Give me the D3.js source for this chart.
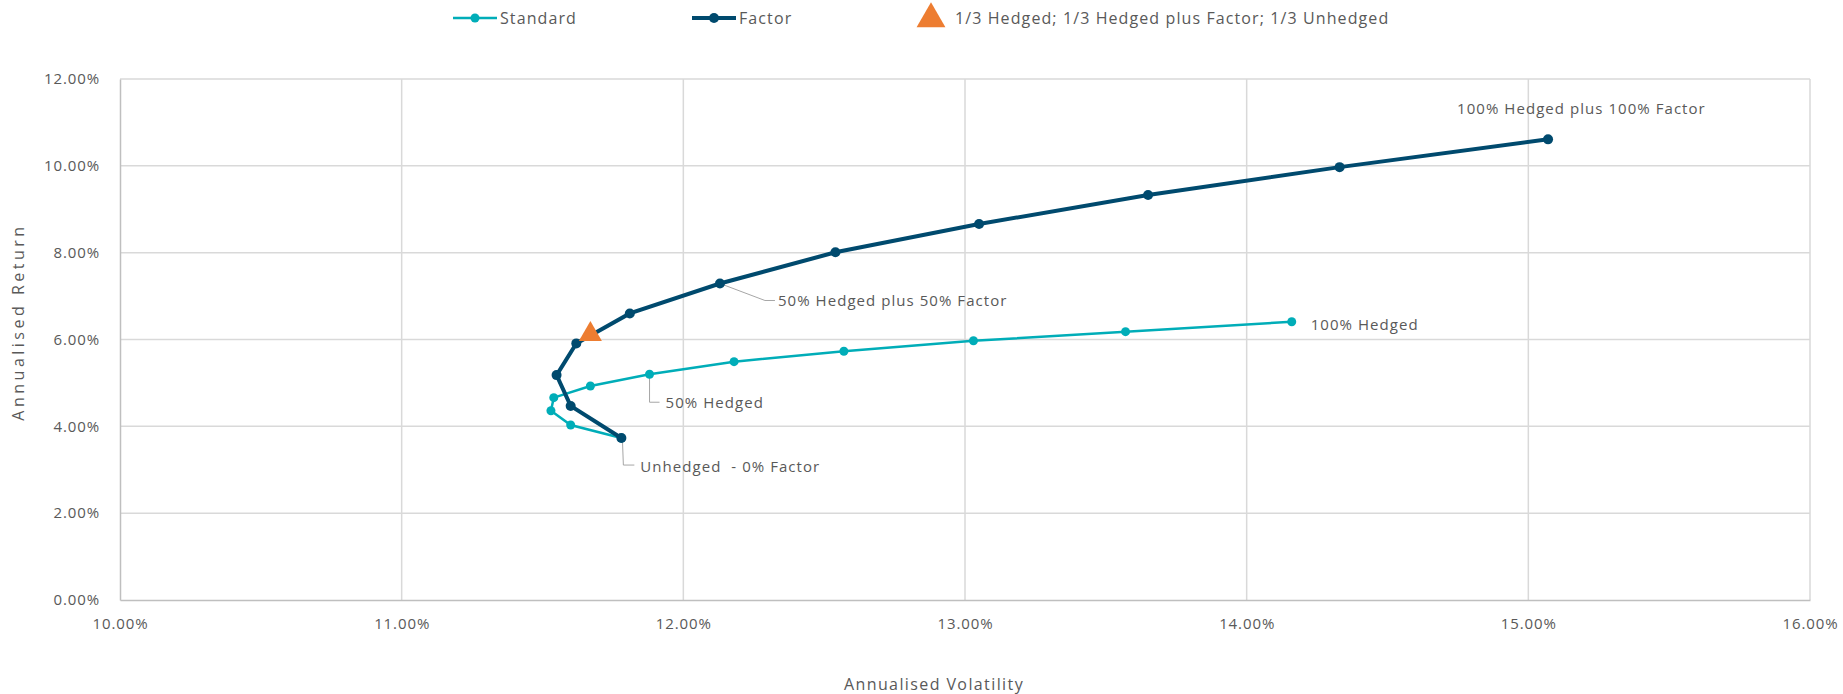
<!DOCTYPE html>
<html>
<head>
  <meta charset="utf-8">
  <title>Volatility vs Return</title>
  <script src="https://cdn.jsdelivr.net/npm/d3@7/dist/d3.min.js"></script>
  <style>
    body { margin: 0; background: #fff; }
    text { font-family: "Open Sans", sans-serif; fill: #595959; }
  </style>
</head>
<body>
  <svg width="1843" height="694"></svg>
  <script>
    // data (percent)
    var standardVol = [11.78, 11.60, 11.53, 11.54, 11.67, 11.88, 12.18, 12.57, 13.03, 13.57, 14.16];
    var standardRet = [3.73, 4.03, 4.36, 4.66, 4.93, 5.20, 5.49, 5.73, 5.97, 6.18, 6.41];
    var factorVol = [11.78, 11.60, 11.55, 11.62, 11.81, 12.13, 12.54, 13.05, 13.65, 14.33, 15.07];
    var factorRet = [3.73, 4.47, 5.18, 5.91, 6.60, 7.29, 8.01, 8.66, 9.33, 9.97, 10.61];
    var blendVol = [11.67];
    var blendRet = [6.12];
    var xTicks = [10, 11, 12, 13, 14, 15, 16];
    var yTicks = [0, 2, 4, 6, 8, 10, 12];
    var seriesNames = ["Standard", "Factor", "1/3 Hedged; 1/3 Hedged plus Factor; 1/3 Unhedged"];

    var colStd = "#00adb8", colFac = "#004a6e", colTri = "#ed7d31";

    var svg = d3.select("svg");
    var x = d3.scaleLinear().domain([10, 16]).range([120, 1810]);
    var y = d3.scaleLinear().domain([0, 12]).range([600, 79]);
    var fmt = function (d) { return d.toFixed(2) + "%"; };

    // grid
    svg.append("g").selectAll("line").data(xTicks.slice(1)).enter().append("line")
      .attr("x1", function (d) { return x(d); }).attr("x2", function (d) { return x(d); })
      .attr("y1", y(0)).attr("y2", y(12))
      .attr("stroke", "#d9d9d9").attr("stroke-width", 1.5);
    svg.append("g").selectAll("line").data(yTicks.slice(1)).enter().append("line")
      .attr("y1", function (d) { return y(d); }).attr("y2", function (d) { return y(d); })
      .attr("x1", x(10)).attr("x2", x(16))
      .attr("stroke", "#d9d9d9").attr("stroke-width", 1.5);

    // axes
    var xAxis = svg.append("g").attr("transform", "translate(0," + y(0) + ")")
      .call(d3.axisBottom(x).tickValues(xTicks).tickFormat(fmt).tickSize(0).tickPadding(18));
    var yAxis = svg.append("g").attr("transform", "translate(" + x(10) + ",0)")
      .call(d3.axisLeft(y).tickValues(yTicks).tickFormat(fmt).tickSize(0).tickPadding(20));
    [xAxis, yAxis].forEach(function (a) {
      a.select(".domain").attr("stroke", "#bfbfbf").attr("stroke-width", 1.5);
      a.selectAll("text").style("font-family", "'Open Sans', sans-serif")
        .style("font-size", "15px").style("letter-spacing", "0.9px").attr("fill", "#595959");
    });

    svg.append("text").attr("x", 934).attr("y", 690).attr("text-anchor", "middle")
      .style("font-size", "16px").style("letter-spacing", "1.4px").text("Annualised Volatility");
    svg.append("text").attr("transform", "translate(24,322) rotate(-90)")
      .attr("text-anchor", "middle").style("font-size", "16px").style("letter-spacing", "3.5px")
      .text("Annualised Return");

    var line = d3.line().x(function (d) { return x(d[0]); }).y(function (d) { return y(d[1]); });
    var std = d3.zip(standardVol, standardRet);
    var fac = d3.zip(factorVol, factorRet);

    // leader lines for labels
    var leader = d3.line();
    var lp = [
      [[x(fac[5][0]), y(fac[5][1])], [x(fac[5][0]) + 45, y(fac[5][1]) + 17], [x(fac[5][0]) + 55, y(fac[5][1]) + 17]],
      [[x(std[5][0]), y(std[5][1])], [x(std[5][0]), y(std[5][1]) + 28], [x(std[5][0]) + 10, y(std[5][1]) + 28]],
      [[x(std[0][0]) + 1, y(std[0][1])], [x(std[0][0]) + 2, y(std[0][1]) + 27], [x(std[0][0]) + 13, y(std[0][1]) + 27]]
    ];
    svg.append("g").selectAll("path").data(lp).enter().append("path")
      .attr("d", function (d) { return leader(d); })
      .attr("fill", "none").attr("stroke", "#a6a6a6").attr("stroke-width", 1);

    svg.append("path").datum(std).attr("d", line)
      .attr("fill", "none").attr("stroke", colStd).attr("stroke-width", 2.5);
    svg.append("g").selectAll("circle").data(std).enter().append("circle")
      .attr("cx", function (d) { return x(d[0]); }).attr("cy", function (d) { return y(d[1]); })
      .attr("r", 4.5).attr("fill", colStd);

    svg.append("path").datum(fac).attr("d", line)
      .attr("fill", "none").attr("stroke", colFac).attr("stroke-width", 4);
    svg.append("g").selectAll("circle").data(fac).enter().append("circle")
      .attr("cx", function (d) { return x(d[0]); }).attr("cy", function (d) { return y(d[1]); })
      .attr("r", 5).attr("fill", colFac);

    var tri = d3.symbol().type(d3.symbolTriangle).size(230);
    svg.append("g").selectAll("path").data(d3.zip(blendVol, blendRet)).enter().append("path")
      .attr("d", tri)
      .attr("transform", function (d) { return "translate(" + x(d[0]) + "," + y(d[1]) + ")"; })
      .attr("fill", colTri);

    // data labels
    var labels = [
      { text: "100% Hedged plus 100% Factor", p: fac[10], dx: -91, dy: -25 },
      { text: "50% Hedged plus 50% Factor", p: fac[5], dx: 58, dy: 23 },
      { text: "100% Hedged", p: std[10], dx: 19, dy: 8 },
      { text: "50% Hedged", p: std[5], dx: 16, dy: 34 },
      { text: "Unhedged  - 0% Factor", p: std[0], dx: 19, dy: 34 }
    ];
    svg.append("g").selectAll("text").data(labels).enter().append("text")
      .attr("x", function (d) { return x(d.p[0]) + d.dx; })
      .attr("y", function (d) { return y(d.p[1]) + d.dy; })
      .attr("text-anchor", "start")
      .attr("xml:space", "preserve")
      .style("white-space", "pre")
      .style("font-size", "15px").style("letter-spacing", "1.05px")
      .text(function (d) { return d.text; });

    // legend
    var lg = svg.append("g").attr("transform", "translate(0,18)");
    var items = [
      { name: seriesNames[0], x0: 453, color: colStd, w: 2.5, r: 4.5 },
      { name: seriesNames[1], x0: 692, color: colFac, w: 4, r: 5 }
    ];
    items.forEach(function (it) {
      lg.append("line").attr("x1", it.x0).attr("x2", it.x0 + 44).attr("y1", 0).attr("y2", 0)
        .attr("stroke", it.color).attr("stroke-width", it.w);
      lg.append("circle").attr("cx", it.x0 + 22).attr("cy", 0).attr("r", it.r).attr("fill", it.color);
      lg.append("text").attr("x", it.x0 + 47).attr("y", 6).style("font-size", "16px")
        .style("letter-spacing", "1.1px").text(it.name);
    });
    lg.append("path").attr("d", d3.symbol().type(d3.symbolTriangle).size(360))
      .attr("transform", "translate(931,1)").attr("fill", colTri);
    lg.append("text").attr("x", 955).attr("y", 6).style("font-size", "16px")
      .style("letter-spacing", "1.1px").text(seriesNames[2]);
  </script>
</body>
</html>
